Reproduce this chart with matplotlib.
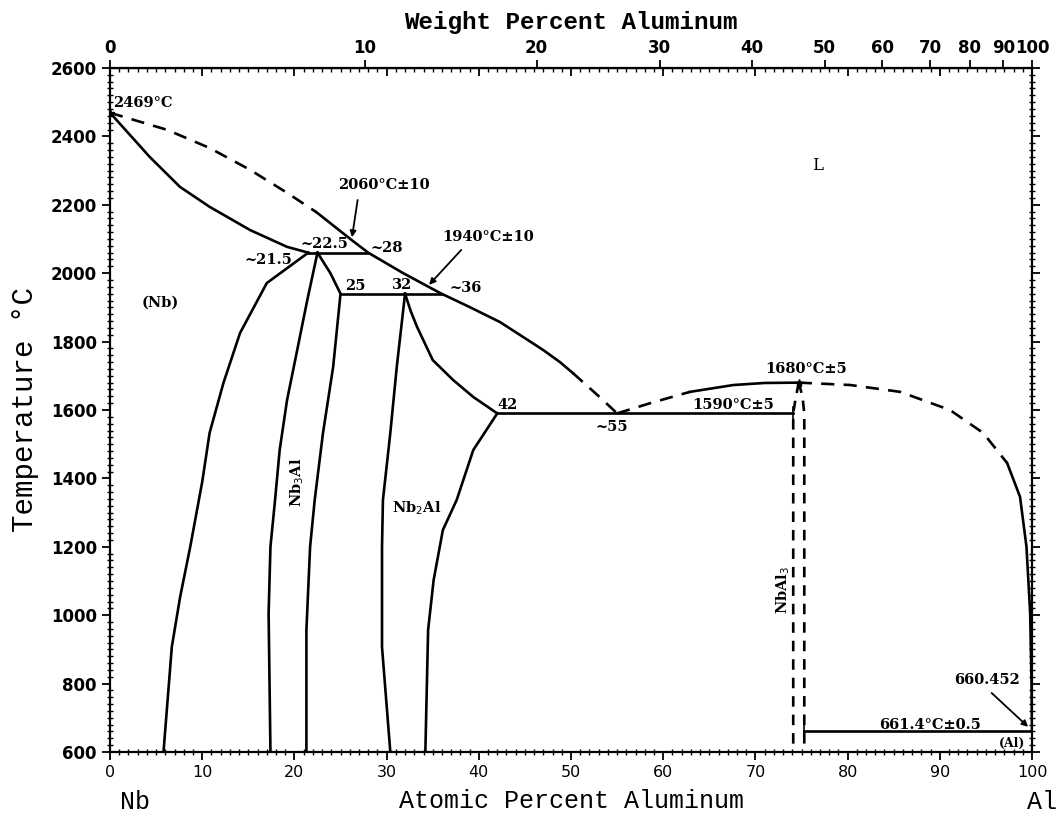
import matplotlib
matplotlib.use("Agg")
import matplotlib.pyplot as plt
from matplotlib.ticker import MultipleLocator, NullFormatter
import numpy as np

# --- data (atomic % Al, temperature in C) ---
# (Nb) solidus and liquidus from the Nb melting point
nb_solidus_at = [0, 4.3, 7.6, 10.8, 15.2, 19.2, 21.5]
nb_solidus_T = [2469, 2340, 2252, 2194, 2126, 2077, 2060]

liq1_dash_at = [0, 6.2, 10.8, 15.2, 19.2, 22.4]
liq1_dash_T = [2469, 2419, 2366, 2302, 2235, 2178]
liq1_at = [22.4, 26.2, 28, 31.8, 35.8, 39.0, 42.3, 44.6, 47.0, 48.8, 50.2]
liq1_T = [2178, 2097, 2060, 2000, 1942, 1901, 1857, 1817, 1775, 1740, 1708]
liq2_dash_at = [50.2, 53.1, 55]
liq2_dash_T = [1708, 1638, 1590]

# NbAl3 liquidus
nbal3_liq_dash_l_at = [55, 58.6, 62.9]
nbal3_liq_dash_l_T = [1590, 1620, 1653]
nbal3_liq_l_at = [62.9, 67.6, 71.0, 74.7]
nbal3_liq_l_T = [1653, 1673, 1679, 1680]
nbal3_liq_dash_r_at = [74.7, 80.3, 85.7, 91.1, 94.7, 97.3]
nbal3_liq_dash_r_T = [1680, 1673, 1653, 1600, 1533, 1445]
al_liq_at = [97.3, 98.7, 99.4, 99.8, 99.95, 100]
al_liq_T = [1445, 1346, 1200, 1006, 800, 660.452]

# solvus / phase boundaries
nb_solvus_at = [21.5, 17.0, 14.1, 12.3, 10.8, 10.0, 8.7, 7.6, 6.7, 5.8]
nb_solvus_T = [2060, 1971, 1825, 1679, 1533, 1390, 1200, 1053, 907, 600]
nb3al_l_at = [22.5, 21.4, 20.3, 19.2, 18.4, 17.9, 17.4, 17.2, 17.4]
nb3al_l_T = [2060, 1922, 1775, 1629, 1483, 1337, 1200, 1006, 600]
nb3al_r_at = [22.5, 23.9, 25, 24.2, 23.1, 22.2, 21.7, 21.3, 21.3]
nb3al_r_T = [2060, 2000, 1940, 1726, 1533, 1337, 1200, 957, 600]
nb2al_l_at = [32, 31.1, 30.4, 29.6, 29.5, 29.5, 30.4]
nb2al_l_T = [1940, 1726, 1533, 1337, 1200, 907, 600]
nb2al_r_at = [32, 32.6, 33.3, 35.0, 37.2, 39.4, 42]
nb2al_r_T = [1940, 1890, 1843, 1746, 1688, 1638, 1590]
nb2al_low_at = [42, 39.4, 37.6, 36.1, 35.1, 34.5, 34.2]
nb2al_low_T = [1590, 1483, 1337, 1249, 1103, 957, 600]
nbal3_l_at = [74.7, 74.4, 74.1, 74.1]
nbal3_l_T = [1680, 1640, 1590, 600]
nbal3_r_at = [74.7, 75.1, 75.3, 75.3]
nbal3_r_T = [1680, 1640, 1590, 600]

# invariant lines: (x_start, x_end, T)
invariants = [(21.5, 28, 2060), (25, 36, 1940), (42, 74.1, 1590), (75.3, 100, 661.4)]

wt_ticks = [0, 10, 20, 30, 40, 50, 60, 70, 80, 90, 100]
M_NB, M_AL = 92.906, 26.982


def at2wt(a):
    a = np.asarray(a, dtype=float)
    return a * M_AL / (a * M_AL + (100 - a) * M_NB) * 100


def wt2at(w):
    w = np.asarray(w, dtype=float)
    return (w / M_AL) / (w / M_AL + (100 - w) / M_NB) * 100


fig = plt.figure(figsize=(10.6, 8.15), dpi=100)
ax = fig.add_axes([0.1038, 0.0773, 0.8698, 0.8393])
ax.set_xlim(0, 100)
ax.set_ylim(600, 2600)

lw = 1.9
dash = (0, (5, 3.5))
k = "black"
ax.plot(nb_solidus_at, nb_solidus_T, color=k, lw=lw)
ax.plot(liq1_dash_at, liq1_dash_T, color=k, lw=lw, ls=dash)
ax.plot(liq1_at, liq1_T, color=k, lw=lw)
ax.plot(liq2_dash_at, liq2_dash_T, color=k, lw=lw, ls=dash)
ax.plot(nbal3_liq_dash_l_at, nbal3_liq_dash_l_T, color=k, lw=lw, ls=dash)
ax.plot(nbal3_liq_l_at, nbal3_liq_l_T, color=k, lw=lw)
ax.plot(nbal3_liq_dash_r_at, nbal3_liq_dash_r_T, color=k, lw=lw, ls=dash)
ax.plot(al_liq_at, al_liq_T, color=k, lw=lw)
for xs, ys in [(nb_solvus_at, nb_solvus_T), (nb3al_l_at, nb3al_l_T),
               (nb3al_r_at, nb3al_r_T), (nb2al_l_at, nb2al_l_T),
               (nb2al_r_at, nb2al_r_T), (nb2al_low_at, nb2al_low_T)]:
    ax.plot(xs, ys, color=k, lw=lw)
ax.plot(nbal3_l_at, nbal3_l_T, color=k, lw=lw, ls=(0, (4, 3)))
ax.plot(nbal3_r_at, nbal3_r_T, color=k, lw=lw, ls=(0, (4, 3)))
for x0, x1, t in invariants:
    ax.plot([x0, x1], [t, t], color=k, lw=lw)
ax.plot([74.1, 74.1], [1570, 1610], color=k, lw=1.2)
ax.plot([75.3, 75.3], [645, 678], color=k, lw=1.2)
ax.plot([0, 74.7], [2469, 1680], ls="none", marker="*", ms=6, color=k)

# labels inside the diagram
tf = dict(family="DejaVu Serif", fontweight="bold", fontsize=10.5, color=k)
ax.text(0.3, 2478, "2469°C", ha="left", va="bottom", **tf)
ax.text(29.7, 2258, "2060°C±10", ha="center", va="center", **tf)
ax.text(41.0, 2106, "1940°C±10", ha="center", va="center", **tf)
ax.text(19.8, 2038, "~21.5", ha="right", va="center", **tf)
ax.text(23.3, 2085, "~22.5", ha="center", va="center", **tf)
ax.text(30.0, 2073, "~28", ha="center", va="center", **tf)
ax.text(26.6, 1962, "25", ha="center", va="center", **tf)
ax.text(31.7, 1966, "32", ha="center", va="center", **tf)
ax.text(38.6, 1957, "~36", ha="center", va="center", **tf)
ax.text(5.5, 1913, "(Nb)", ha="center", va="center", **tf)
ax.text(20.3, 1389, "Nb$_3$Al", ha="center", va="center", rotation=90, **tf)
ax.text(33.3, 1313, "Nb$_2$Al", ha="center", va="center", **tf)
ax.text(73.0, 1074, "NbAl$_3$", ha="center", va="center", rotation=90, **tf)
ax.text(76.7, 2316, "L", ha="center", va="center", family="DejaVu Serif", fontsize=12)
ax.text(75.5, 1720, "1680°C±5", ha="center", va="center", **tf)
ax.text(67.6, 1615, "1590°C±5", ha="center", va="center", **tf)
ax.text(43.1, 1615, "42", ha="center", va="center", **tf)
ax.text(54.4, 1550, "~55", ha="center", va="center", **tf)
ax.text(95.1, 810, "660.452", ha="center", va="center", **tf)
ax.text(88.9, 680, "661.4°C±0.5", ha="center", va="center", **tf)
ax.text(97.8, 626, "(Al)", ha="center", va="center", family="DejaVu Serif",
        fontweight="bold", fontsize=9)

ap = dict(arrowstyle="-|>", color=k, lw=1.3, mutation_scale=9)
ax.annotate("", xy=(26.2, 2097), xytext=(26.9, 2222), arrowprops=ap)
ax.annotate("", xy=(34.4, 1960), xytext=(38.3, 2074), arrowprops=ap)
ax.annotate("", xy=(99.8, 668), xytext=(95.4, 778), arrowprops=ap)

# axes and ticks
ax.xaxis.set_major_locator(MultipleLocator(10))
ax.xaxis.set_minor_locator(MultipleLocator(1))
ax.yaxis.set_major_locator(MultipleLocator(200))
ax.yaxis.set_minor_locator(MultipleLocator(20))
ax.tick_params(axis="x", which="major", direction="out", length=6, width=1.3,
               top=False, labelsize=11.5)
ax.tick_params(axis="x", which="minor", direction="inout", length=5, width=1,
               top=False)
ax.tick_params(axis="y", which="major", direction="out", length=6, width=1.3,
               left=True, right=True, labelsize=12)
ax.tick_params(axis="y", which="minor", direction="inout", length=5, width=1,
               left=True, right=True)
for lab in ax.get_yticklabels():
    lab.set_fontweight("bold")
for sp in ax.spines.values():
    sp.set_linewidth(1.6)

# top: atomic percent ticks pointing in, weight percent ticks outward
top_at = ax.secondary_xaxis("top")
top_at.xaxis.set_major_locator(MultipleLocator(10))
top_at.xaxis.set_minor_locator(MultipleLocator(1))
top_at.tick_params(which="major", direction="in", length=6, width=1.3, labelsize=0)
top_at.tick_params(which="minor", direction="in", length=3, width=1)
top_at.xaxis.set_major_formatter(NullFormatter())

top_wt = ax.secondary_xaxis("top", functions=(at2wt, wt2at))
top_wt.set_xticks(wt_ticks)
top_wt.xaxis.set_minor_locator(plt.NullLocator())
top_wt.tick_params(which="major", direction="out", length=6, width=1.3,
                   labelsize=12, pad=2)
for lab in top_wt.get_xticklabels():
    lab.set_fontweight("bold")
top_wt.set_xlabel("Weight Percent Aluminum", family="Liberation Mono",
                  fontweight="bold", fontsize=17.5, labelpad=7)

ax.set_ylabel("Temperature °C", family="Liberation Mono", fontsize=21, labelpad=8)
ax.set_xlabel("Atomic Percent Aluminum", family="Liberation Mono", fontsize=18,
              labelpad=6)
fig.text(135 / 1060, 1 - 802 / 815, "Nb", ha="center", va="center",
         family="Liberation Mono", fontsize=18)
fig.text(1042 / 1060, 1 - 802 / 815, "Al", ha="center", va="center",
         family="Liberation Mono", fontsize=18)

fig.savefig("out.png", dpi=100)
